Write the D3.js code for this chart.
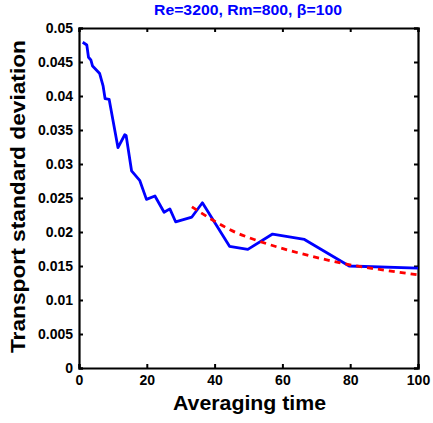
<!DOCTYPE html>
<html>
<head>
<meta charset="utf-8">
<script src="https://cdn.jsdelivr.net/npm/d3@7"></script>
<style>
body { margin: 0; background: #fff; }
text { font-family: "Liberation Sans", Arial, sans-serif; font-weight: bold; }
</style>
</head>
<body>
<svg width="433" height="423"></svg>
<script>
// averaged transport std dev vs averaging time
var timeVals = [1.1, 2.3, 2.8, 3.5, 4, 6.1, 7.1, 7.7, 8.9, 11.5, 13.5, 13.9, 15.5, 17.9, 19.9, 22.4, 25.1, 26.8, 28.5, 33.3, 36.4, 44.4, 49.8, 57.1, 66.5, 79.7, 100];
var stdVals = [0.0479, 0.0475, 0.0457, 0.0453, 0.0444, 0.0433, 0.0415, 0.0396, 0.0395, 0.0324, 0.0343, 0.0342, 0.0290, 0.0276, 0.0248, 0.0253, 0.0229, 0.0234, 0.0215, 0.0222, 0.0243, 0.0179, 0.01745, 0.0197, 0.0189, 0.0150, 0.0147];

// fitted curve (red dashed)
var fitTime = [33.3, 40, 46.4, 50, 59.1, 68.9, 80.7, 90, 100];
var fitVals = [0.0237, 0.0216, 0.0199, 0.0192, 0.0177, 0.0164, 0.0151, 0.0144, 0.0137];

var xTicks = [0, 20, 40, 60, 80, 100];
var yTicks = [0, 0.005, 0.01, 0.015, 0.02, 0.025, 0.03, 0.035, 0.04, 0.045, 0.05];

var svg = d3.select('svg');
var pLeft = 79, pRight = 418, pTop = 28, pBottom = 368;

var x = d3.scaleLinear().domain([0, 100]).range([pLeft, pRight]);
var y = d3.scaleLinear().domain([0, 0.05]).range([pBottom, pTop]);

function fmt(d) { return d === 0 ? '0' : String(+d.toFixed(3)); }

// axes with inward ticks
svg.append('g').attr('class', 'ax').attr('transform', 'translate(0,' + pBottom + ')')
    .call(d3.axisBottom(x).tickValues(xTicks).tickSize(-4).tickPadding(7).tickFormat(fmt));
svg.append('g').attr('class', 'ax').attr('transform', 'translate(0,' + pTop + ')')
    .call(d3.axisTop(x).tickValues(xTicks).tickSize(-4).tickFormat(''));
svg.append('g').attr('class', 'ax').attr('transform', 'translate(' + pLeft + ',0)')
    .call(d3.axisLeft(y).tickValues(yTicks).tickSize(-4).tickPadding(6).tickFormat(fmt));
svg.append('g').attr('class', 'ax').attr('transform', 'translate(' + pRight + ',0)')
    .call(d3.axisRight(y).tickValues(yTicks).tickSize(-4).tickFormat(''));

svg.selectAll('.ax .domain').attr('stroke', '#000').attr('stroke-width', 2.2);
svg.selectAll('.ax .tick line').attr('stroke', '#000').attr('stroke-width', 2);
svg.selectAll('.ax text').attr('font-size', 14).attr('fill', '#000')
    .style('font-family', '"Liberation Sans", Arial, sans-serif').style('font-weight', 'bold');

var line = d3.line()
    .x(function(d) { return x(d[0]); })
    .y(function(d) { return y(d[1]); });

svg.append('path')
    .datum(timeVals.map(function(t, i) { return [t, stdVals[i]]; }))
    .attr('d', line)
    .attr('fill', 'none')
    .attr('stroke', '#0000ff')
    .attr('stroke-width', 2.8)
    .attr('stroke-linejoin', 'round');

svg.append('path')
    .datum(fitTime.map(function(t, i) { return [t, fitVals[i]]; }))
    .attr('d', line.curve(d3.curveMonotoneX))
    .attr('fill', 'none')
    .attr('stroke', '#ff0000')
    .attr('stroke-width', 2.8)
    .attr('stroke-dasharray', '6,5');

// labels
svg.append('text')
    .attr('x', 248).attr('y', 15)
    .attr('text-anchor', 'middle')
    .attr('font-size', 14.5).attr('fill', '#0000ff')
    .attr('textLength', 188).attr('lengthAdjust', 'spacingAndGlyphs')
    .text('Re=3200, Rm=800, β=100');

svg.append('text')
    .attr('x', 249.5).attr('y', 410)
    .attr('text-anchor', 'middle')
    .attr('font-size', 20).attr('fill', '#000')
    .attr('textLength', 153).attr('lengthAdjust', 'spacingAndGlyphs')
    .text('Averaging time');

svg.append('text')
    .attr('transform', 'translate(25,196.5) rotate(-90)')
    .attr('text-anchor', 'middle')
    .attr('font-size', 20).attr('fill', '#000')
    .attr('textLength', 313).attr('lengthAdjust', 'spacingAndGlyphs')
    .text('Transport standard deviation');
</script>
</body>
</html>
